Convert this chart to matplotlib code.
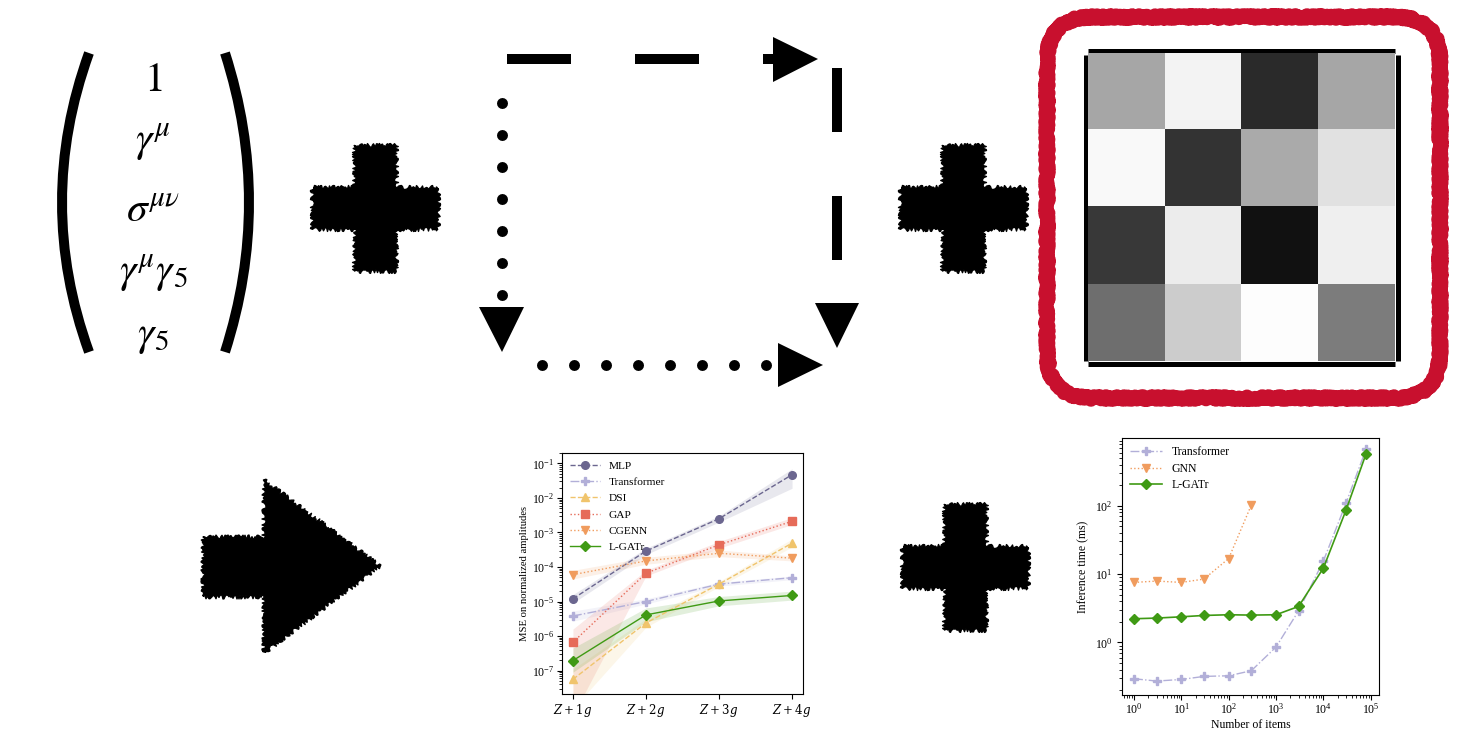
import numpy as np
import matplotlib
matplotlib.use("Agg")
import matplotlib.pyplot as plt
from matplotlib.patches import Polygon, PathPatch, FancyBboxPatch
from matplotlib.path import Path

plt.rcParams['font.family'] = ['Liberation Serif', 'DejaVu Serif']
plt.rcParams['mathtext.fontset'] = 'dejavuserif'

W, H = 1459, 736

# ---------------- data ----------------
# MSE vs. multiplicity
mse_categories = ['$Z+1g$', '$Z+2g$', '$Z+3g$', '$Z+4g$']
mse_models = ['MLP', 'Transformer', 'DSI', 'GAP', 'CGENN', 'L-GATr']
mse_mlp = [1.2e-5, 2.9e-4, 2.5e-3, 4.7e-2]
mse_transformer = [3.8e-6, 1.0e-5, 3.2e-5, 4.9e-5]
mse_dsi = [5.6e-8, 2.4e-6, 3.2e-5, 4.9e-4]
mse_gap = [6.6e-7, 6.6e-5, 4.4e-4, 2.1e-3]
mse_cgenn = [6.0e-5, 1.5e-4, 2.5e-4, 1.8e-4]
mse_lgatr = [1.95e-7, 4.1e-6, 1.04e-5, 1.5e-5]

mse_mlp_lo = [9e-6, 2.3e-4, 2.0e-3, 1.9e-2]
mse_mlp_hi = [1.6e-5, 3.5e-4, 3.0e-3, 7.0e-2]
mse_transformer_lo = [2.7e-6, 8.5e-6, 2.8e-5, 4.3e-5]
mse_transformer_hi = [5.3e-6, 1.2e-5, 3.6e-5, 5.5e-5]
mse_dsi_lo = [8e-9, 1.8e-6, 2.7e-5, 3.8e-4]
mse_dsi_hi = [1.1e-7, 3.2e-6, 3.8e-5, 6.5e-4]
mse_gap_lo = [5e-9, 5.5e-5, 3.5e-4, 1.7e-3]
mse_gap_hi = [1.6e-6, 8.0e-5, 5.5e-4, 2.7e-3]
mse_cgenn_lo = [4.5e-5, 1.2e-4, 2.0e-4, 1.5e-4]
mse_cgenn_hi = [8.0e-5, 1.9e-4, 3.1e-4, 2.1e-4]
mse_lgatr_lo = [9e-8, 2.6e-6, 7.5e-6, 1.1e-5]
mse_lgatr_hi = [4.5e-7, 6.5e-6, 1.4e-5, 2.0e-5]

# Inference time vs. number of items
n_items = [1, 3, 10, 30, 100, 300, 1000, 3000, 10000, 30000, 80000]
t_transformer = [0.294, 0.272, 0.287, 0.318, 0.325, 0.385, 0.855, 2.9, 15.5, 108, 675]
n_items_gnn = [1, 3, 10, 30, 100, 300]
t_gnn = [7.55, 7.9, 7.55, 8.45, 16.9, 102]
t_lgatr = [2.22, 2.27, 2.37, 2.48, 2.54, 2.51, 2.54, 3.36, 12.2, 85.5, 577]

# 4x4 matrix shown as grey levels (0 = black, 1 = white)
matrix_levels = [
    [0.65, 0.95, 0.165, 0.65],
    [0.976, 0.20, 0.667, 0.88],
    [0.22, 0.925, 0.067, 0.937],
    [0.43, 0.80, 0.99, 0.486],
]

# Bilinear basis elements listed in the column vector
basis_labels = [r'$1$', r'$\gamma^\mu$', r'$\sigma^{\mu\nu}$',
                r'$\gamma^\mu\gamma_5$', r'$\gamma_5$']

C_MLP = '#6b668f'
C_TRF = '#b2afd8'
C_DSI = '#f0c46c'
C_GAP = '#e66b59'
C_CGE = '#f09c5e'
C_LGA = '#3f9a14'
C_RED = '#c8102e'


def px(v):
    """pixels -> points"""
    return v * 0.72


fig = plt.figure(figsize=(W / 100, H / 100), dpi=100)

# drawing canvas in pixel coordinates
ov = fig.add_axes([0, 0, 1, 1])
ov.set_xlim(0, W)
ov.set_ylim(H, 0)
ov.set_axis_off()


def rough(patch, scale=2.0, length=4, randomness=8):
    patch.set_sketch_params(scale, length, randomness)
    patch.set_joinstyle('round')
    return patch


def plus_shape(cx, cy, half_len, half_w):
    pts = [(cx - half_w, cy - half_len), (cx + half_w, cy - half_len),
           (cx + half_w, cy - half_w), (cx + half_len, cy - half_w),
           (cx + half_len, cy + half_w), (cx + half_w, cy + half_w),
           (cx + half_w, cy + half_len), (cx - half_w, cy + half_len),
           (cx - half_w, cy + half_w), (cx - half_len, cy + half_w),
           (cx - half_len, cy - half_w), (cx - half_w, cy - half_w)]
    return Polygon(pts, closed=True, facecolor='black', edgecolor='black', lw=1.0)


# ---- column vector with parentheses ----
for (x0, xc) in [(89, 35), (225, 273)]:
    path = Path([(x0, 53), (xc, 202.5), (x0, 352)],
                [Path.MOVETO, Path.CURVE3, Path.CURVE3])
    ov.add_patch(PathPatch(path, fill=False, lw=px(10), capstyle='butt',
                           edgecolor='black'))

basis_y = [91, 152, 222, 283, 345]
for lab, yb in zip(basis_labels, basis_y):
    ov.text(153, yb, lab, fontsize=30, ha='center', va='baseline',
            math_fontfamily='stix')

# ---- rough plus signs ----
for (cx, cy) in [(375, 208), (963, 208), (965, 567)]:
    ov.add_patch(rough(plus_shape(cx, cy, 63, 21)))

# ---- rough arrow ----
arrow_pts = [(203, 537), (264, 537), (264, 480), (380, 566),
             (264, 653), (264, 597), (203, 597)]
ov.add_patch(rough(Polygon(arrow_pts, closed=True, facecolor='black',
                           edgecolor='black', lw=1.0)))

# ---- dashed / dotted loop ----
lw_dash = px(10)
ov.plot([507, 775], [59, 59], color='black', lw=lw_dash,
        linestyle=(0, (6.4, 6.4)), solid_capstyle='butt', dash_capstyle='butt')
ov.plot([837, 837], [68, 304], color='black', lw=lw_dash,
        linestyle=(0, (6.4, 6.4)), solid_capstyle='butt', dash_capstyle='butt')
lw_dot = px(11)
ov.plot([502, 502], [103, 296], color='black', lw=lw_dot,
        linestyle=(0, (0.001, 32 / 11 - 0.001)), dash_capstyle='round')
ov.plot([542, 767], [365, 365], color='black', lw=lw_dot,
        linestyle=(0, (0.001, 32 / 11 - 0.001)), dash_capstyle='round')
for tri in [[(773, 37), (773, 82), (818, 59)],
            [(815, 303), (859, 303), (837, 348)],
            [(479, 307), (524, 307), (502, 352)],
            [(778, 343), (778, 387), (823, 365)]]:
    ov.add_patch(Polygon(tri, closed=True, facecolor='black', edgecolor='none'))

# ---- red rough frame ----
frame = FancyBboxPatch((1047, 17), 393, 381,
                       boxstyle='round,pad=0,rounding_size=45',
                       facecolor='none', edgecolor=C_RED, lw=px(14))
ov.add_patch(rough(frame, 1.8, 3, 6))

# thick black edges around the matrix
for xs, ys in [([1088, 1395], [51, 51]), ([1088, 1395], [363.5, 363.5]),
               ([1085.5, 1085.5], [55, 361]), ([1397.5, 1397.5], [55, 361])]:
    ov.plot(xs, ys, color='black', lw=px(5), solid_capstyle='butt')


def fig_rect(left, top, right, bottom):
    return [left / W, (H - bottom) / H, (right - left) / W, (bottom - top) / H]


# ---- matrix ----
axm = fig.add_axes(fig_rect(1088, 53, 1395, 361))
axm.imshow(np.array(matrix_levels), cmap='gray', vmin=0, vmax=1,
           interpolation='nearest', aspect='auto')
axm.set_axis_off()

# ---- MSE chart ----
ax1 = fig.add_axes(fig_rect(562, 453, 803, 694))
xs = np.arange(len(mse_categories))
series = [
    ('MLP', mse_mlp, mse_mlp_lo, mse_mlp_hi, C_MLP, '--', 'o'),
    ('Transformer', mse_transformer, mse_transformer_lo, mse_transformer_hi, C_TRF, '-.', 'P'),
    ('DSI', mse_dsi, mse_dsi_lo, mse_dsi_hi, C_DSI, '--', '^'),
    ('GAP', mse_gap, mse_gap_lo, mse_gap_hi, C_GAP, ':', 's'),
    ('CGENN', mse_cgenn, mse_cgenn_lo, mse_cgenn_hi, C_CGE, ':', 'v'),
    ('L-GATr', mse_lgatr, mse_lgatr_lo, mse_lgatr_hi, C_LGA, '-', 'D'),
]
for name, y, lo, hi, c, ls, mk in series:
    ax1.fill_between(xs, lo, hi, color=c, alpha=0.15, lw=0)
    ax1.plot(xs, y, color=c, ls=ls, marker=mk, ms=5.5, lw=1.0, label=name)
ax1.set_yscale('log')
ax1.set_ylim(2.1e-8, 0.2)
ax1.set_xlim(-0.15, 3.15)
ax1.set_xticks(xs)
ax1.set_xticklabels(mse_categories)
ax1.set_ylabel('MSE on normalized amplitudes', fontsize=7.7, labelpad=2)
ax1.tick_params(labelsize=8.5)
ax1.tick_params(axis='x', pad=2.5)
ax1.tick_params(axis='y', pad=2)
ax1.legend(loc='upper left', frameon=False, fontsize=8.2, handlelength=2.6,
           borderaxespad=0.3, labelspacing=0.55)

# ---- timing chart ----
ax2 = fig.add_axes(fig_rect(1122, 438, 1379, 695))
ax2.plot(n_items, t_transformer, color=C_TRF, ls='-.', marker='P', ms=6,
         lw=1.0, label='Transformer')
ax2.plot(n_items_gnn, t_gnn, color=C_CGE, ls=':', marker='v', ms=6,
         lw=1.0, label='GNN')
ax2.plot(n_items, t_lgatr, color=C_LGA, ls='-', marker='D', ms=5.5,
         lw=1.2, label='L-GATr')
ax2.set_xscale('log')
ax2.set_yscale('log')
ax2.set_xlim(0.557, 1.5e5)
ax2.set_ylim(0.17, 980)
ax2.set_xlabel('Number of items', fontsize=8.5, labelpad=2)
ax2.set_ylabel('Inference time (ms)', fontsize=8.5)
ax2.tick_params(labelsize=8.5)
ax2.tick_params(axis='x', pad=1.5)
ax2.legend(loc='upper left', frameon=False, fontsize=8.5, handlelength=2.7,
           borderaxespad=0.3, labelspacing=0.38)

fig.savefig('out.png', dpi=100)
